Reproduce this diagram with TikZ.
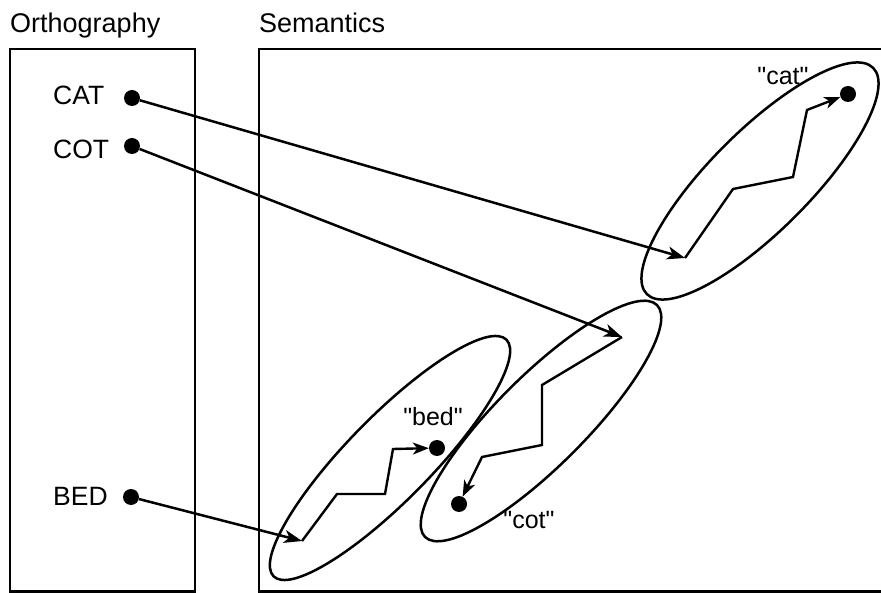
\documentclass[tikz,border=0pt]{standalone}
\usepackage{fontspec}
\setmainfont{Liberation Sans}
\newfontfamily\qfont{Liberation Sans}[Ligatures=TeXOff]
\usetikzlibrary{arrows.meta}
\begin{document}
\begin{tikzpicture}[x=1pt,y=-1pt,
  ln/.style={line width=2.5pt},
  arr/.style={line width=2.5pt, -{Stealth[length=18pt,width=13pt,inset=5pt]}},
  zarr/.style={line width=2.4pt, line join=miter, -{Stealth[length=16pt,width=12pt,inset=4.5pt]}},
  dotn/.style={circle, fill=black, inner sep=0pt, minimum size=16pt},
  hdr/.style={font=\fontsize{27}{32}\selectfont, inner sep=0pt, anchor=base west},
  lbl/.style={font=\fontsize{26.5}{30}\selectfont, inner sep=0pt, anchor=base west},
  sem/.style={font=\qfont\fontsize{25}{30}\selectfont, inner sep=0pt, anchor=base}]
\useasboundingbox (0,0) rectangle (881,593);
% headers
\node[hdr] (hO) at (10,33) {Orthography};
\node[hdr] (hS) at (259,33) {Semantics};
% frames
\draw[ln] (10,49) rectangle (195,591.5);
\draw[ln] (884,49) -- (259,49) -- (259,591.5) -- (884,591.5);
% ellipses
\draw[ln, rotate around={45:(760,181)}] (760,181) ellipse [x radius=160, y radius=50];
\draw[ln, rotate around={45:(541,421)}] (541,421) ellipse [x radius=164, y radius=45];
\draw[ln, rotate around={45.5:(390,458)}] (390,458) ellipse [x radius=166, y radius=42];
% orthographic labels and dots
\node[lbl] (tCAT) at (53,105) {CAT};
\node[lbl] (tCOT) at (53,159) {COT};
\node[lbl] (tBED) at (53,505) {BED};
\node[dotn] (oCAT) at (132,98) {};
\node[dotn] (oCOT) at (132,146) {};
\node[dotn] (oBED) at (131,497) {};
% semantic dots and labels
\node[dotn] (sCAT) at (848,94) {};
\node[dotn] (sBED) at (437,448) {};
\node[dotn] (sCOT) at (459,504) {};
\node[sem] (lcat) at (783,85) {"cat"};
\node[sem] (lbed) at (433,425) {"bed"};
\node[sem] (lcot) at (529,528) {"cot"};
% entry points
\coordinate (eCAT) at (685,258);
\coordinate (eCOT) at (622,337);
\coordinate (eBED) at (302,541);
% mapping arrows
\draw[arr] (oCAT) -- (eCAT);
\draw[arr] (oCOT) -- (eCOT);
\draw[arr] (oBED) -- (eBED);
% settling trajectories
\draw[zarr] (eCAT) -- (733,189) -- (793,177) -- (807,110) -- (sCAT);
\draw[zarr] (eCOT) -- (542,385) -- (542,445) -- (482,457) -- (sCOT);
\draw[zarr] (eBED) -- (337,494) -- (385,494) -- (393,449) -- (sBED);
\end{tikzpicture}
\end{document}
